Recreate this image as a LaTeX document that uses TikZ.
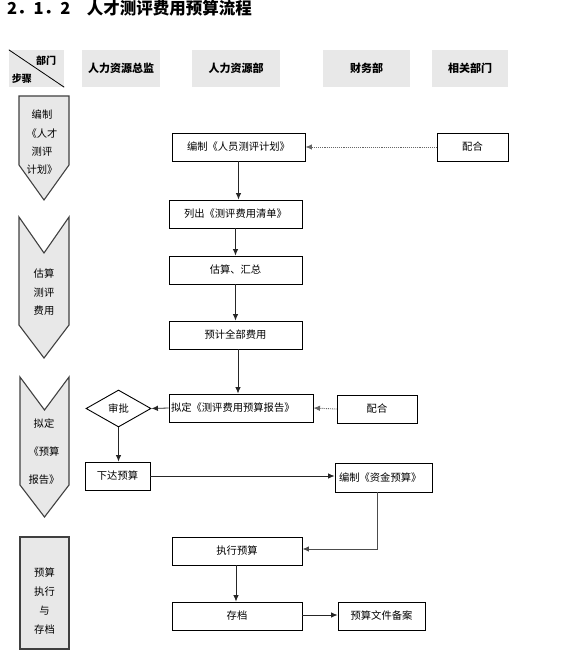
\documentclass[tikz,border=0pt]{standalone}
\usepackage{fontspec}
\setmainfont{Noto Sans CJK SC}
\usetikzlibrary{shapes.geometric,arrows.meta}
\definecolor{hdrgray}{HTML}{E8E8E8}
\definecolor{edgegray}{HTML}{404040}
\newcommand\myBody{\fontsize{10.3}{12}\selectfont}
\newcommand\myHead{\fontsize{11}{13}\selectfont\bfseries}
\tikzset{
  box/.style={draw=black, line width=0.9pt, minimum height=28pt, inner sep=0pt, font=\myBody},
  hdr/.style={fill=hdrgray, inner sep=0pt, minimum height=37pt, font=\myHead},
  stage/.style={fill=hdrgray, draw=edgegray, line width=1.1pt, line join=miter},
  stext/.style={font=\fontsize{10.3}{#1}\selectfont, align=center, inner sep=0pt},
  arr/.style={draw=black!85, line width=0.8pt, -{Latex[length=6.5pt,width=5.5pt]}},
  darr/.style={draw=black!60, line width=0.9pt, densely dotted, -{Latex[length=6.5pt,width=5.5pt]}},
}
\begin{document}
\begin{tikzpicture}[x=1pt,y=-1pt]
\useasboundingbox[fill=white] (0,0) rectangle (578,650);
% title
\node[anchor=west, inner sep=0pt, font=\fontsize{16.5}{18}\selectfont\bfseries] (title) at (7,8.5) {2．1．2　人才测评费用预算流程};
% header
\node[hdr, minimum width=55pt] (hd0) at (36.5,68.5) {};
\draw[line width=0.8pt] (hd0.north west) -- (hd0.south east);
\node[inner sep=0pt, font=\fontsize{10}{12}\selectfont\bfseries] (hdA) at (46,61) {部门};
\node[inner sep=0pt, font=\fontsize{10}{12}\selectfont\bfseries] (hdB) at (22,79) {步骤};
\node[hdr, minimum width=78pt] (h1) at (121,68.5) {人力资源总监};
\node[hdr, minimum width=88pt] (h2) at (236,68.5) {人力资源部};
\node[hdr, minimum width=87pt] (h3) at (366.5,68.5) {财务部};
\node[hdr, minimum width=76pt] (h4) at (470,68.5) {相关部门};
% stage shapes
\draw[stage] (19,96) -- (69,96) -- (69,165) -- (44,200) -- (19,165) -- cycle;
\node[stext=18.3pt] (s1) at (42,142.5) {编制\\《人才\\测评\\计划》};
\draw[stage] (19,217) -- (44,253) -- (69,217) -- (69,325) -- (44,358) -- (19,325) -- cycle;
\node[stext=18.5pt] (s2) at (44,292.5) {估算\\测评\\费用};
\draw[stage] (20,377) -- (44.5,410) -- (69,377) -- (69,485) -- (44.5,517) -- (20,485) -- cycle;
\node[stext=28pt] (s3) at (44,452) {拟定\\《预算\\报告》};
\draw[stage] (20,537) rectangle (69,649);
\node[stext=18.7pt] (s4) at (44.5,601) {预算\\执行\\与\\存档};
% boxes
\node[box, minimum width=133pt] (b1) at (238.5,147) {编制《人员测评计划》};
\node[box, minimum width=71pt] (p1) at (472.5,147) {配合};
\node[box, minimum width=133pt] (b2) at (235.5,214) {列出《测评费用清单》};
\node[box, minimum width=133pt] (b3) at (235.5,270) {估算、汇总};
\node[box, minimum width=133pt] (b4) at (235.5,335) {预计全部费用};
\node[box, text width=140pt, inner xsep=2pt, align=left] (b5) at (241,408) {拟定《测评费用预算报告》};
\node[draw=black, line width=0.9pt, shape=diamond, minimum width=65pt, minimum height=37pt, inner sep=0pt, font=\myBody] (d) at (118.5,408.5) {审批};
\node[box, minimum width=80pt] (p2) at (377,409) {配合};
\node[box, minimum width=65pt] (b6) at (117.5,476) {下达预算};
\node[box, minimum height=29pt, text width=89pt, inner xsep=4pt, align=left] (b7) at (383.5,477.5) {编制《资金预算》};
\node[box, minimum width=130pt] (b8) at (237,551) {执行预算};
\node[box, minimum width=130pt] (b9) at (237,616) {存档};
\node[box, minimum width=87pt] (b10) at (381.5,616) {预算文件备案};
% connectors
\draw[darr] (p1.west) -- (b1.east);
\draw[arr] (b1.south) -- (b1.south |- b2.north);
\draw[arr] (b2.south) -- (b2.south |- b3.north);
\draw[arr] (b3.south) -- (b3.south |- b4.north);
\draw[arr] ([xshift=2.5pt]b4.south) -- ([xshift=2.5pt]b4.south |- b5.north);
\draw[arr] (b5.west) -- (d.east);
\draw[darr] (p2.west) -- (b5.east);
\draw[arr] (d.south) -- (d.south |- b6.north);
\draw[arr] (b6.east) -- (b6.east -| b7.west);
\coordinate (k) at (377,549);
\draw[arr, line width=1pt, draw=black!70] ([xshift=-6.5pt]b7.south) -- (k) -- (k -| b8.east);
\draw[arr] ([xshift=-1pt]b8.south) -- ([xshift=-1pt]b8.south |- b9.north);
\draw[arr] ([yshift=1pt]b9.east) -- ([yshift=1pt]b9.east -| b10.west);
\end{tikzpicture}
\end{document}
